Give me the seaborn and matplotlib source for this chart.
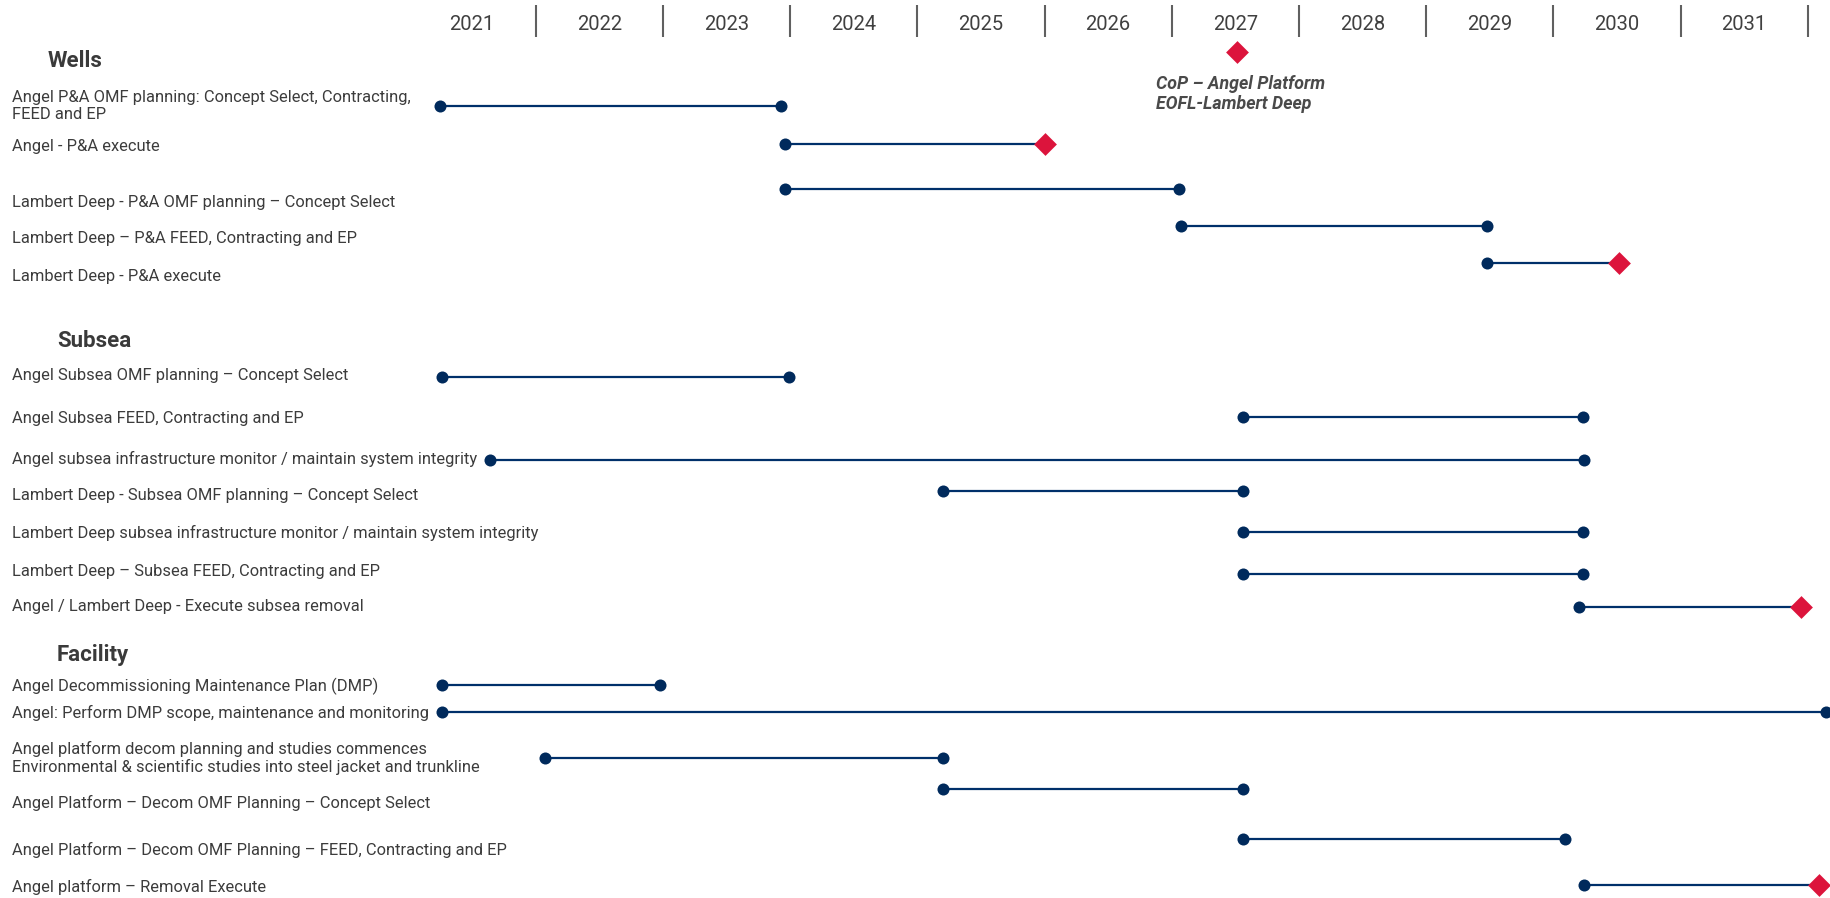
import pandas as pd
import seaborn as sns
import matplotlib.pyplot as plt
import matplotlib.transforms as mtransforms

# ---- data ----
years = list(range(2021, 2032))

sections = ['Wells', 'Subsea', 'Facility']

tasks = [
    'Angel P&A OMF planning: Concept Select, Contracting,\nFEED and EP',
    'Angel - P&A execute',
    'Lambert Deep - P&A OMF planning \u2013 Concept Select',
    'Lambert Deep \u2013 P&A FEED, Contracting and EP',
    'Lambert Deep - P&A execute',
    'Angel Subsea OMF planning \u2013 Concept Select',
    'Angel Subsea FEED, Contracting and EP',
    'Angel subsea infrastructure monitor / maintain system integrity',
    'Lambert Deep - Subsea OMF planning \u2013 Concept Select',
    'Lambert Deep subsea infrastructure monitor / maintain system integrity',
    'Lambert Deep \u2013 Subsea FEED, Contracting and EP',
    'Angel / Lambert Deep - Execute subsea removal',
    'Angel Decommissioning Maintenance Plan (DMP)',
    'Angel: Perform DMP scope, maintenance and monitoring',
    'Angel platform decom planning and studies commences\nEnvironmental & scientific studies into steel jacket and trunkline',
    'Angel Platform \u2013 Decom OMF Planning \u2013 Concept Select',
    'Angel Platform \u2013 Decom OMF Planning \u2013 FEED, Contracting and EP',
    'Angel platform \u2013 Removal Execute',
]
task_section = ['Wells'] * 5 + ['Subsea'] * 7 + ['Facility'] * 6

starts = [2021.25, 2023.96, 2023.96, 2027.07, 2029.48,
          2021.26, 2027.56, 2021.64, 2025.20, 2027.56, 2027.56, 2030.20,
          2021.26, 2021.26, 2022.07, 2025.20, 2027.56, 2030.24]
ends = [2023.93, 2026.00, 2027.06, 2029.48, 2030.52,
        2023.99, 2030.23, 2030.24, 2027.56, 2030.23, 2030.23, 2031.95,
        2022.98, 2032.14, 2025.20, 2027.56, 2030.09, 2032.09]
end_kind = ['dot', 'diamond', 'dot', 'dot', 'diamond',
            'dot', 'dot', 'dot', 'dot', 'dot', 'dot', 'diamond',
            'dot', 'dot', 'dot', 'dot', 'dot', 'diamond']

milestone_year = 2027.51
milestone_text = 'CoP \u2013 Angel Platform\nEOFL-Lambert Deep'

# ---- layout (vertical positions, reference rows) ----
line_y = [90.5, 123.7, 162.0, 193.9, 225.6,
          322.7, 357.0, 394.1, 420.7, 455.3, 491.2, 519.8,
          586.9, 609.8, 648.9, 675.5, 718.3, 757.7]
label_y = [91.1, 125.7, 173.7, 204.2, 237.0,
           321.3, 358.4, 392.7, 424.7, 456.1, 489.2, 519.8,
           587.8, 610.6, 649.5, 687.5, 728.3, 759.2]
header_y = [52.0, 292.2, 561.2]
header_x = [0.0261, 0.0311, 0.0311]
milestone_y = 44.3
milestone_text_y = 80.3

NAVY = '#00306a'
DOT = '#002a5c'
RED = '#dc143c'
TXT = '#3c3c3c'

sns.set_theme(style='white')
plt.rcParams['font.family'] = ['Roboto', 'DejaVu Sans']

df = pd.DataFrame({'task': tasks, 'section': task_section, 'start': starts,
                   'end': ends, 'kind': end_kind, 'ypos': line_y})
long = df.melt(id_vars=['task', 'ypos'], value_vars=['start', 'end'],
               var_name='point', value_name='year')

fig = plt.figure(figsize=(18.3, 8.98), dpi=100)
ax = fig.add_axes([0, 0, 1, 1])

x_left = 2021 - 408.5 / 127.2
ax.set_xlim(x_left, x_left + 1830 / 127.2)
ax.set_ylim(769, 0)

sns.lineplot(data=long, x='year', y='ypos', units='task', estimator=None,
             sort=False, color=NAVY, lw=1.6, ax=ax, legend=False, zorder=2)
sns.scatterplot(data=df, x='start', y='ypos', color=DOT, s=75, marker='o',
                linewidth=0, ax=ax, zorder=3, legend=False)
sns.scatterplot(data=df[df['kind'] == 'dot'], x='end', y='ypos', color=DOT,
                s=75, marker='o', linewidth=0, ax=ax, zorder=3, legend=False)
sns.scatterplot(data=df[df['kind'] == 'diamond'], x='end', y='ypos', color=RED,
                s=135, marker='D', linewidth=0, ax=ax, zorder=4, legend=False)

# milestone
ax.scatter([milestone_year], [milestone_y], color=RED, s=135, marker='D',
           linewidth=0, zorder=4)
ax.text(milestone_year - 0.63, milestone_text_y, milestone_text, fontsize=12.8,
        fontweight='bold', fontstyle='italic', color='#4a4a4a',
        va='center', ha='left', linespacing=1.15)

# year header
for yr in years:
    ax.text(yr + 0.5, 21.4, str(yr), ha='center', va='center',
            fontsize=14.5, color='#404040')
ax.vlines([yr + 1 for yr in years], 4.3, 31.4, color='#606060', lw=1.5)

trans = mtransforms.blended_transform_factory(ax.transAxes, ax.transData)
for name, hx, hy in zip(sections, header_x, header_y):
    ax.text(hx, hy, name, transform=trans, fontsize=16, fontweight='bold',
            color='#3a3a3a', va='center', ha='left')
for t, ly in zip(tasks, label_y):
    ax.text(0.0064, ly, t, transform=trans, fontsize=11.9, color=TXT,
            va='center', ha='left', linespacing=1.15)

ax.set_axis_off()
fig.savefig('out.png', dpi=100)
